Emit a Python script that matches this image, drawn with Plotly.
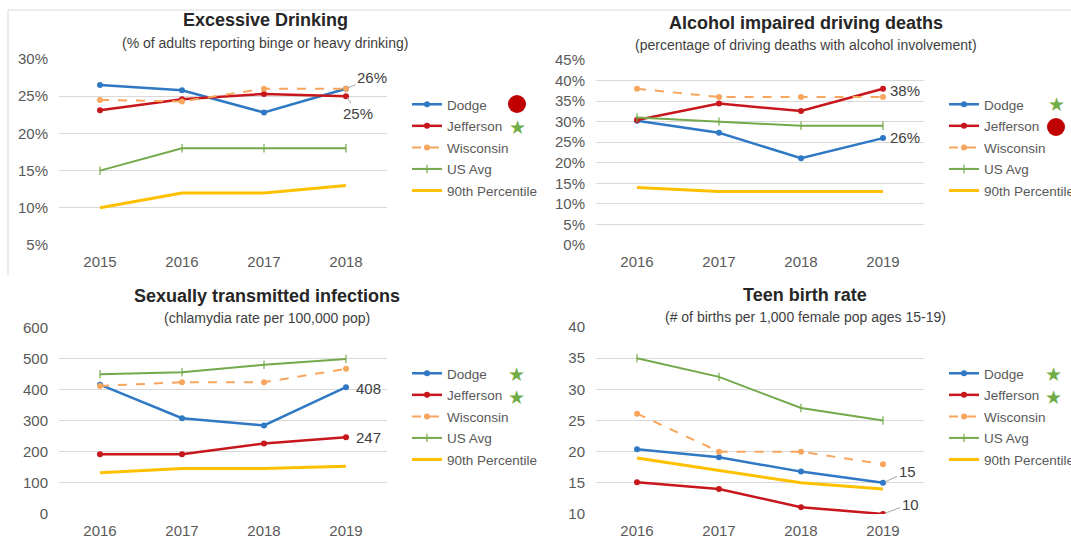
import plotly.graph_objects as go

W, H = 1071, 542
FONT = "Liberation Sans, Arial, sans-serif"

# ---- data -------------------------------------------------------------
series_names = ["Dodge", "Jefferson", "Wisconsin", "US Avg", "90th Percentile"]

drink_years = ["2015", "2016", "2017", "2018"]
drink_dodge = [26.5, 25.8, 22.8, 26]
drink_jefferson = [23.1, 24.6, 25.3, 25]
drink_wisconsin = [24.5, 24.3, 26, 26]
drink_us = [15, 18, 18, 18]
drink_p90 = [10, 12, 12, 13]

aidd_years = ["2016", "2017", "2018", "2019"]
aidd_dodge = [30.2, 27.3, 21.1, 26]
aidd_jefferson = [30.4, 34.4, 32.6, 38]
aidd_wisconsin = [38, 36, 36, 36]
aidd_us = [31, 30, 29, 29]
aidd_p90 = [14, 13, 13, 13]

sti_years = ["2016", "2017", "2018", "2019"]
sti_dodge = [416, 308, 285, 408]
sti_jefferson = [192, 192, 227, 247]
sti_wisconsin = [412, 424, 424, 467]
sti_us = [450, 456, 480, 499]
sti_p90 = [133, 146, 146, 154]

teen_years = ["2016", "2017", "2018", "2019"]
teen_dodge = [20.4, 19.1, 16.8, 15]
teen_jefferson = [15.1, 14.0, 11.1, 10]
teen_wisconsin = [26.1, 20, 20, 18]
teen_us = [35, 32, 27, 25]
teen_p90 = [19, 17, 15, 14]

# ---- styling ----------------------------------------------------------
C_DODGE = "#2F78C4"
C_JEFF = "#C8161D"
C_WIS = "#F8A55E"
C_US = "#73A94A"
C_P90 = "#FFC000"
GRID = "#D9D9D9"
TICK = "#595959"


def px_x(x):
    return x / W


def px_y(y):
    return 1 - y / H


def add_panel(fig, idx, years, values):
    xa = "x" if idx == 1 else f"x{idx}"
    ya = "y" if idx == 1 else f"y{idx}"
    lg = "legend" if idx == 1 else f"legend{idx}"
    dodge, jeff, wis, us, p90 = values
    specs = [
        (dodge, dict(color=C_DODGE, width=2.5), dict(symbol="circle", size=6, color=C_DODGE)),
        (jeff, dict(color=C_JEFF, width=2.5), dict(symbol="circle", size=6, color=C_JEFF)),
        (wis, dict(color=C_WIS, width=2, dash="dash"), dict(symbol="circle", size=6, color=C_WIS)),
        (us, dict(color=C_US, width=2), dict(symbol="line-ns", size=6, color=C_US,
                                              line=dict(width=1.2, color=C_US))),
        (p90, dict(color=C_P90, width=3), None),
    ]
    for name, (vals, line, marker) in zip(series_names, specs):
        fig.add_trace(go.Scatter(
            x=years, y=vals, name=name,
            mode="lines+markers" if marker else "lines",
            line=line, marker=marker,
            xaxis=xa, yaxis=ya, legend=lg,
            legendgroup=f"{idx}-{name}",
        ))


fig = go.Figure()
add_panel(fig, 1, drink_years, [drink_dodge, drink_jefferson, drink_wisconsin, drink_us, drink_p90])
add_panel(fig, 2, aidd_years, [aidd_dodge, aidd_jefferson, aidd_wisconsin, aidd_us, aidd_p90])
add_panel(fig, 3, sti_years, [sti_dodge, sti_jefferson, sti_wisconsin, sti_us, sti_p90])
add_panel(fig, 4, teen_years, [teen_dodge, teen_jefferson, teen_wisconsin, teen_us, teen_p90])

# axis geometry in pixels: (x0, x1, ytop, ybottom, range, dtick, suffix)
panels = {
    1: (59, 387, 59, 245, [5, 30], 5, "%"),
    2: (596, 924, 60, 245, [0, 45], 5, "%"),
    3: (59, 387, 327.5, 514, [0, 600], 100, ""),
    4: (596, 924, 327, 514, [10, 40], 5, ""),
}

layout_axes = {}
for i, (x0, x1, yt, yb, rng, dt, suf) in panels.items():
    xk = "xaxis" if i == 1 else f"xaxis{i}"
    yk = "yaxis" if i == 1 else f"yaxis{i}"
    ya = "y" if i == 1 else f"y{i}"
    xa = "x" if i == 1 else f"x{i}"
    layout_axes[xk] = dict(
        domain=[px_x(x0), px_x(x1)], anchor=ya, type="category",
        range=[-0.5, 3.5], showgrid=False, showline=False, zeroline=False,
        tickfont=dict(family=FONT, size=15, color=TICK), ticks="",
        ticklabelstandoff=6,
    )
    layout_axes[yk] = dict(
        domain=[px_y(yb), px_y(yt)], anchor=xa, range=rng, dtick=dt,
        ticksuffix=suf, showgrid=True, gridcolor=GRID, gridwidth=1,
        zeroline=False, showline=False, ticks="",
        tickfont=dict(family=FONT, size=15, color=TICK),
        ticklabelstandoff=10,
    )

# legends
legend_pos = {1: (407, 89), 2: (944, 89), 3: (407, 358), 4: (944, 358)}
legends = {}
for i, (lx, ly) in legend_pos.items():
    key = "legend" if i == 1 else f"legend{i}"
    legends[key] = dict(
        x=px_x(lx), y=px_y(ly), xanchor="left", yanchor="top",
        bgcolor="rgba(0,0,0,0)", borderwidth=0,
        font=dict(family=FONT, size=13.5, color=TICK),
        tracegroupgap=1, itemwidth=30,
    )

annotations = []
titles = [
    (265, 20, "Excessive Drinking", 43, "(% of adults reporting binge or heavy drinking)"),
    (806, 23, "Alcohol impaired driving deaths", 45, "(percentage of driving deaths with alcohol involvement)"),
    (267, 296, "Sexually transmitted infections", 318, "(chlamydia rate per 100,000 pop)"),
    (805, 295, "Teen birth rate", 317, "(# of births per 1,000 female pop ages 15-19)"),
]
for cx, ty, title, sy, sub in titles:
    annotations.append(dict(
        x=px_x(cx), y=px_y(ty), xref="paper", yref="paper", showarrow=False,
        text=f"<b>{title}</b>", xanchor="center", yanchor="middle",
        font=dict(family=FONT, size=18, color="#262626"),
    ))
    annotations.append(dict(
        x=px_x(cx), y=px_y(sy), xref="paper", yref="paper", showarrow=False,
        text=sub, xanchor="center", yanchor="middle",
        font=dict(family=FONT, size=14, color="#404040"),
    ))

LBL = dict(family=FONT, size=15, color="#404040")
last = 3
# value labels at the final year
annotations += [
    dict(x=last, y=drink_dodge[-1], xref="x", yref="y", text=f"{drink_dodge[-1]:g}%",
         showarrow=True, arrowhead=0, arrowwidth=1, arrowcolor="#A6A6A6",
         ax=26, ay=-11, font=LBL, standoff=2),
    dict(x=last, y=drink_jefferson[-1], xref="x", yref="y", text=f"{drink_jefferson[-1]:g}%",
         showarrow=True, arrowhead=0, arrowwidth=1, arrowcolor="#A6A6A6",
         ax=12, ay=17, font=LBL, standoff=2),
    dict(x=last, y=aidd_jefferson[-1], xref="x2", yref="y2", text=f"{aidd_jefferson[-1]:g}%",
         showarrow=False, xshift=22, yshift=-2, font=LBL),
    dict(x=last, y=aidd_dodge[-1], xref="x2", yref="y2", text=f"{aidd_dodge[-1]:g}%",
         showarrow=False, xshift=22, yshift=1, font=LBL),
    dict(x=last, y=sti_dodge[-1], xref="x3", yref="y3", text=f"{sti_dodge[-1]:g}",
         showarrow=False, xshift=22, yshift=-1, font=LBL),
    dict(x=last, y=sti_jefferson[-1], xref="x3", yref="y3", text=f"{sti_jefferson[-1]:g}",
         showarrow=False, xshift=22, yshift=0, font=LBL),
    dict(x=last, y=teen_dodge[-1], xref="x4", yref="y4", text=f"{teen_dodge[-1]:g}",
         showarrow=True, arrowhead=0, arrowwidth=1, arrowcolor="#A6A6A6",
         ax=24, ay=-11, font=LBL, standoff=2),
    dict(x=last, y=teen_jefferson[-1], xref="x4", yref="y4", text=f"{teen_jefferson[-1]:g}",
         showarrow=True, arrowhead=0, arrowwidth=1, arrowcolor="#A6A6A6",
         ax=27, ay=-10, font=LBL, standoff=2),
]

# status icons beside legend entries
stars = [(517, 127), (1056, 104), (516, 374), (516, 397), (1053, 374), (1053, 397)]
for sx, sy in stars:
    annotations.append(dict(
        x=px_x(sx), y=px_y(sy), xref="paper", yref="paper", showarrow=False,
        text="★", xanchor="center", yanchor="middle",
        font=dict(family="DejaVu Sans", size=19, color="#70AD47"),
    ))

shapes = []
for cx, cy in [(517, 104), (1056, 127)]:
    shapes.append(dict(
        type="circle", xref="paper", yref="paper", xsizemode="pixel", ysizemode="pixel",
        xanchor=px_x(cx), yanchor=px_y(cy), x0=-9, x1=9, y0=-9, y1=9,
        fillcolor="#C00000", line=dict(width=0),
    ))
# frame around the upper charts
shapes.append(dict(type="line", xref="paper", yref="paper",
                   x0=px_x(8), x1=1, y0=px_y(10), y1=px_y(10),
                   line=dict(color=GRID, width=1)))
shapes.append(dict(type="line", xref="paper", yref="paper",
                   x0=px_x(8), x1=px_x(8), y0=px_y(10), y1=px_y(275),
                   line=dict(color=GRID, width=1)))

fig.update_layout(
    width=W, height=H,
    # fixed page geometry: legends running off the right edge must not shrink the plots
    margin=dict(l=0, r=0, t=0, b=0, autoexpand=False),
    paper_bgcolor="white", plot_bgcolor="white",
    font=dict(family=FONT),
    annotations=annotations, shapes=shapes,
    **layout_axes, **legends,
)

fig.write_html("out.html")
